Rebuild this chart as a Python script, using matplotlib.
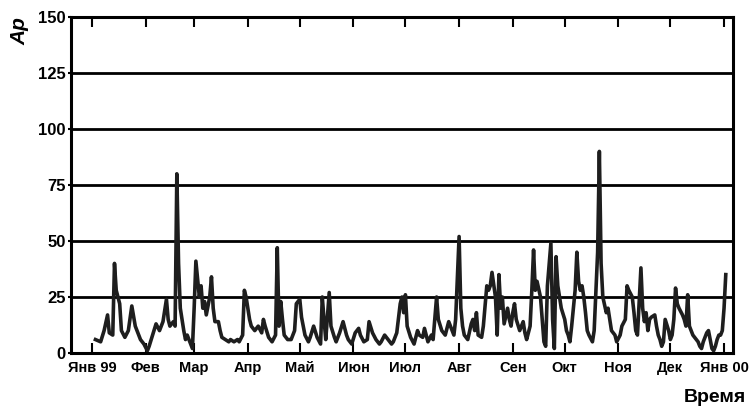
import numpy as np
import matplotlib
matplotlib.use("Agg")
import matplotlib.pyplot as plt

plt.rcParams['font.family'] = ['Liberation Sans', 'DejaVu Sans']

# day of year 1999 (0 = 1 Jan) and daily Ap index
days = [2, 5, 7, 9, 10, 12, 13, 14, 16, 17, 19, 21, 23, 25, 27, 28, 30, 32,
        33, 35, 37, 39, 41, 43, 44, 45, 47, 48, 49, 50, 51, 53, 54, 55, 57, 58,
        59, 60, 62, 63, 64, 65, 66, 68, 69, 70, 71, 73, 74, 75, 77, 79, 80, 82,
        84, 85, 87, 88, 89, 91, 92, 94, 96, 98, 99, 100, 102, 104, 106, 107,
        108, 109, 110, 111, 113, 115, 117, 118, 120, 121, 123, 125, 126, 128,
        130, 132, 133, 134, 135, 137, 138, 140, 141, 143, 145, 147, 148, 150,
        152, 154, 155, 157, 159, 160, 162, 164, 166, 167, 169, 171, 173, 174,
        176, 178, 179, 180, 181, 182, 184, 186, 188, 189, 191, 192, 194, 196,
        197, 199, 200, 202, 204, 206, 208, 209, 210, 212, 213, 214, 215, 217,
        219, 220, 221, 222, 223, 225, 226, 228, 229, 230, 231, 233, 234, 235,
        236, 237, 238, 240, 241, 242, 243, 244, 245, 247, 249, 250, 251, 253,
        254, 255, 256, 257, 259, 260, 261, 262, 263, 265, 266, 267, 268, 269,
        270, 271, 273, 274, 275, 276, 277, 279, 280, 281, 282, 283, 284, 285,
        286, 287, 289, 290, 291, 292, 293, 294, 295, 297, 298, 299, 300, 302,
        303, 305, 306, 308, 309, 310, 312, 313, 314, 315, 317, 318, 319, 320,
        321, 322, 323, 325, 326, 327, 328, 329, 330, 331, 333, 334, 335, 336,
        337, 338, 339, 341, 342, 343, 344, 345, 346, 347, 349, 350, 351, 352,
        353, 355, 356, 357, 358, 359, 360, 361, 362, 363, 364, 365, 366]

ap = [6, 5, 10, 17, 9, 8, 40, 28, 22, 10, 7, 10, 21, 12, 8, 6, 4, 1,
      3, 8, 13, 10, 14, 24, 15, 12, 14, 12, 80, 40, 20, 10, 6, 8, 4, 2,
      20, 41, 25, 30, 20, 23, 17, 25, 34, 20, 14, 14, 10, 7, 6, 5, 6, 5,
      6, 5, 8, 28, 25, 15, 12, 10, 12, 9, 15, 12, 7, 5, 8, 47,
      12, 23, 15, 8, 6, 6, 10, 22, 24, 16, 8, 5, 7, 12,
      7, 4, 25, 15, 6, 27, 12, 7, 5, 9, 14, 8, 6, 4,
      9, 11, 8, 5, 6, 14, 9, 6, 4, 5, 8, 6, 4, 5,
      9, 22, 25, 18, 26, 12, 7, 4, 10, 8, 7, 11, 5, 8,
      6, 25, 15, 10, 8, 14, 10, 8, 15, 52, 20, 12, 8, 6,
      13, 15, 10, 18, 8, 7, 12, 30, 28, 30, 36, 25, 8, 35,
      20, 25, 13, 20, 15, 12, 18, 22, 15, 10, 14, 9, 6, 12,
      28, 46, 28, 32, 25, 15, 5, 3, 30, 49, 15, 2, 43, 30,
      25, 20, 15, 10, 8, 5, 12, 28, 45, 32, 28, 30, 25, 18,
      10, 8, 5, 10, 28, 45, 90, 40, 25, 18, 20, 15, 10, 8,
      5, 8, 12, 15, 30, 28, 25, 18, 10, 8, 38, 20, 14, 18,
      10, 15, 16, 17, 12, 8, 6, 3, 5, 15, 10, 6, 8, 15,
      29, 22, 20, 17, 15, 12, 26, 12, 10, 8, 6, 5, 3, 2,
      5, 9, 10, 6, 2, 1, 3, 6, 8, 8, 10, 20, 35]

month_starts = [0, 31, 59, 90, 120, 151, 181, 212, 243, 273, 304, 334, 365]
month_labels = ["Янв 99", "Фев", "Мар", "Апр", "Май", "Июн", "Июл",
                "Авг", "Сен", "Окт", "Ноя", "Дек", "Янв 00"]
y_ticks = [0, 25, 50, 75, 100, 125, 150]

fig = plt.figure(figsize=(7.5, 4.08), dpi=100)
ax = fig.add_axes([0.0947, 0.1348, 0.8827, 0.8235])

for v in y_ticks[1:-1]:
    ax.axhline(v, color="black", linewidth=2.0, zorder=1)

ax.plot(days, ap, color="#1e1e1e", linewidth=2.6, zorder=2)

ax.set_xlim(-12.1, 370.2)
ax.set_ylim(0, 150)

ax.set_xticks(month_starts)
ax.set_xticklabels(month_labels, fontsize=10.5, fontweight="bold")
ax.set_yticks(y_ticks)
ax.set_yticklabels([str(v) for v in y_ticks], fontsize=12, fontweight="bold")

ax.tick_params(axis="x", direction="in", length=7, width=1.5,
               top=True, bottom=True, pad=6)
ax.tick_params(axis="y", direction="out", length=2, width=1.5, pad=2)

for s in ax.spines.values():
    s.set_linewidth(2.2)

fig.text(0.026, 0.925, "Ap", rotation=90, fontsize=15, fontweight="bold",
         fontstyle="italic", ha="center", va="center")
fig.text(0.995, 0.005, "Время", fontsize=14, fontweight="bold",
         ha="right", va="bottom")

fig.savefig("out.png", dpi=100)
